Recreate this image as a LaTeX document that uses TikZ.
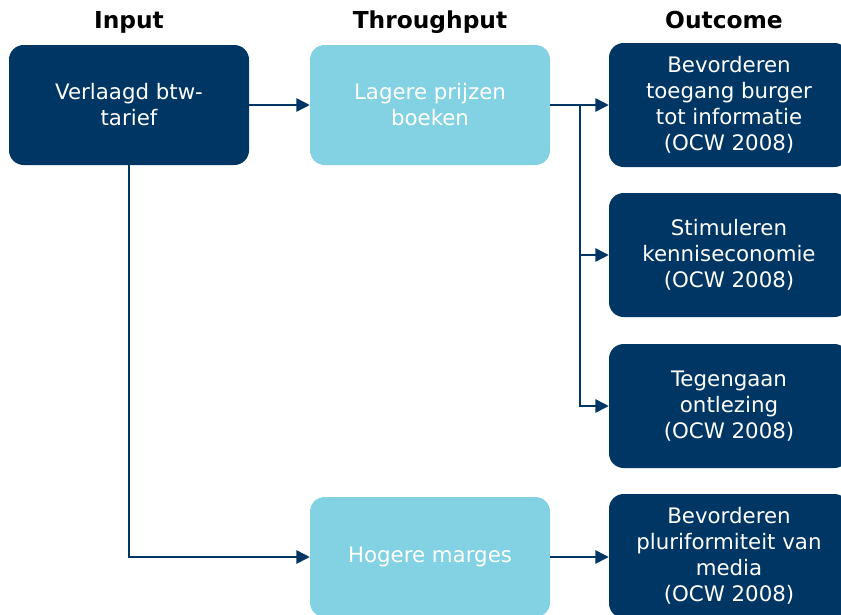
\documentclass[tikz,border=0pt]{standalone}
\usepackage{fontspec}
\setmainfont{DejaVu Sans}
\usetikzlibrary{arrows.meta,positioning}
\definecolor{navy}{RGB}{0,54,100}
\definecolor{skyblue}{RGB}{130,210,227}
\tikzset{%
  >={Triangle[width=10pt,length=10pt]},
  % Specifications for style of nodes:
          base/.style = {rectangle, rounded corners=11pt, draw=none,
                         minimum width=180pt, minimum height=90pt,
                         text centered, text=white, align=center,
                         font=\fontsize{16}{19.5}\selectfont},
      inputbox/.style = {base, fill=navy},
    throughbox/.style = {base, fill=skyblue},
    outcomebox/.style = {base, fill=navy, minimum height=93pt},
         title/.style = {anchor=base, font=\fontsize{17.5}{20}\selectfont\bfseries},
          link/.style = {->, draw=navy, line width=1.2pt},
}
\begin{document}
\begin{tikzpicture}[x=0.75pt, y=-0.75pt]
  \useasboundingbox (0,0) rectangle (841,614);
  \clip (0,0) rectangle (841,614);
  % Column headings
  \node (tin)  [title] at (129,28) {Input};
  \node (tthr) [title] at (430,28) {Throughput};
  \node (tout) [title] at (724,28) {Outcome};
  % Specification of nodes (position, etc.)
  \node (input)   [inputbox]   at (129,105) {Verlaagd btw-\\tarief};
  \node (lagere)  [throughbox] at (430,105) {Lagere prijzen\\boeken};
  \node (hogere)  [throughbox] at (430,557) {Hogere marges};
  \node (toegang) [outcomebox] at (729,105) {Bevorderen\\toegang burger\\tot informatie\\(OCW 2008)};
  \node (kennis)  [outcomebox] at (729,255) {Stimuleren\\kenniseconomie\\(OCW 2008)};
  \node (lezing)  [outcomebox] at (729,406) {Tegengaan\\ontlezing\\(OCW 2008)};
  \node (pluri)   [outcomebox] at (729,556) {Bevorderen\\pluriformiteit van\\media\\(OCW 2008)};
  % Specification of lines between nodes specified above
  \coordinate (split) at (580,105);
  \draw[link] (input) -- (lagere);
  \draw[link] (lagere) -- (toegang);
  \draw[link] (split) |- (kennis);
  \draw[link] (split) |- (lezing);
  \draw[link] (input) |- (hogere);
  \draw[link] (hogere) -- (pluri.west |- hogere);
\end{tikzpicture}
\end{document}
